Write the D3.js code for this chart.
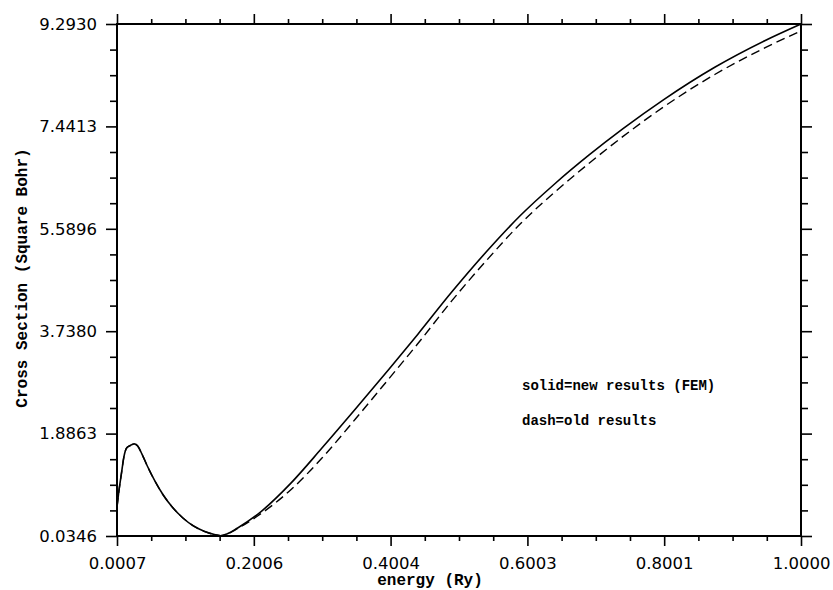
<!DOCTYPE html>
<html>
<head>
<meta charset="utf-8">
<script src="https://cdnjs.cloudflare.com/ajax/libs/d3/7.8.5/d3.min.js"></script>
<style>
    body { margin: 0; background: #fff; }
    .frame { fill: none; stroke: #000; stroke-width: 2px; }
    .axis line { stroke: #000; stroke-width: 1.6px; }
    .axis path { display: none; }
    .axis text { font-family: 'DejaVu Sans', sans-serif; font-size: 16.5px; fill: #000; }
    .curve { fill: none; stroke: #000; stroke-width: 1.6px; }
    .curve.dash { stroke-dasharray: 9,5; stroke-width: 1.4px; }
    .label { font-family: 'Liberation Mono', 'Courier New', monospace; font-weight: bold; fill: #000; }
</style>
</head>
<body>
<svg id="chart-svg"></svg>
<script>
// new results (FEM), solid line
const energySolid = [0.0007, 0.003, 0.007, 0.011, 0.015, 0.020, 0.026, 0.031, 0.037, 0.045,
    0.056, 0.068, 0.082, 0.097, 0.112, 0.128, 0.143, 0.152, 0.162, 0.177, 0.2066, 0.2555,
    0.2998, 0.349, 0.398, 0.44, 0.49, 0.54, 0.59, 0.64, 0.69, 0.74, 0.80, 0.874, 0.947, 1.0];
const crossSolid = [0.56, 0.80, 1.15, 1.48, 1.63, 1.67, 1.70, 1.66, 1.52, 1.30,
    1.03, 0.78, 0.55, 0.36, 0.22, 0.12, 0.06, 0.04, 0.075, 0.18, 0.43, 1.00,
    1.62, 2.33, 3.05, 3.68, 4.45, 5.17, 5.83, 6.40, 6.92, 7.40, 7.93, 8.51, 8.99, 9.293];

// old results, dashed line
const energyDash = [0.0007, 0.003, 0.007, 0.011, 0.015, 0.020, 0.026, 0.031, 0.037, 0.045,
    0.056, 0.068, 0.082, 0.097, 0.112, 0.128, 0.143, 0.152, 0.162, 0.177, 0.2066, 0.2555,
    0.2998, 0.349, 0.398, 0.44, 0.49, 0.54, 0.59, 0.64, 0.69, 0.74, 0.80, 0.874, 0.947, 1.0];
const crossDash = [0.56, 0.80, 1.15, 1.48, 1.63, 1.67, 1.70, 1.66, 1.52, 1.30,
    1.03, 0.78, 0.55, 0.36, 0.22, 0.12, 0.06, 0.04, 0.07, 0.17, 0.40, 0.88,
    1.44, 2.15, 2.88, 3.51, 4.29, 5.01, 5.68, 6.25, 6.77, 7.26, 7.80, 8.38, 8.86, 9.17];

const xTickValues = [0.0007, 0.2006, 0.4004, 0.6003, 0.8001, 1.0000];
const yTickValues = [0.0346, 1.8863, 3.7380, 5.5896, 7.4413, 9.2930];
const legendLines = ['solid=new results (FEM)', 'dash=old results'];
const xLabel = 'energy (Ry)';
const yLabel = 'Cross Section (Square Bohr)';

const width = 833, height = 590;
const plot = { left: 117, right: 801, top: 24, bottom: 536 };

window.addEventListener('load', function() {
    drawChart();
});

// 3 minor ticks between every pair of major ticks
function minorTicks(major)
{
    let out = [];
    for (let i = 0; i < major.length - 1; i++) {
        const step = (major[i+1] - major[i]) / 4;
        for (let k = 1; k < 4; k++) out.push(major[i] + k * step);
    }
    return out;
}

function drawChart()
{
    const svg = d3.select('#chart-svg')
        .attr('width', width)
        .attr('height', height);
    svg.append('rect').attr('width', width).attr('height', height).attr('fill', '#fff');

    const x = d3.scaleLinear()
        .domain([xTickValues[0], xTickValues[xTickValues.length-1]])
        .range([plot.left, plot.right]);
    const y = d3.scaleLinear()
        .domain([yTickValues[0], yTickValues[yTickValues.length-1]])
        .range([plot.bottom, plot.top]);

    const fmt = d3.format('.4f');
    const xMinor = minorTicks(xTickValues);
    const yMinor = minorTicks(yTickValues);

    // bottom
    svg.append('g').attr('class', 'axis')
        .attr('transform', `translate(0,${plot.bottom})`)
        .call(d3.axisBottom(x).tickValues(xTickValues).tickSize(10).tickPadding(11).tickFormat(fmt));
    svg.append('g').attr('class', 'axis')
        .attr('transform', `translate(0,${plot.bottom})`)
        .call(d3.axisBottom(x).tickValues(xMinor).tickSize(5).tickFormat(''));
    // top
    svg.append('g').attr('class', 'axis')
        .attr('transform', `translate(0,${plot.top})`)
        .call(d3.axisTop(x).tickValues(xTickValues).tickSize(10).tickFormat(''));
    svg.append('g').attr('class', 'axis')
        .attr('transform', `translate(0,${plot.top})`)
        .call(d3.axisTop(x).tickValues(xMinor).tickSize(5).tickFormat(''));
    // left
    svg.append('g').attr('class', 'axis')
        .attr('transform', `translate(${plot.left},0)`)
        .call(d3.axisLeft(y).tickValues(yTickValues).tickSize(11).tickPadding(9).tickFormat(fmt));
    svg.append('g').attr('class', 'axis')
        .attr('transform', `translate(${plot.left},0)`)
        .call(d3.axisLeft(y).tickValues(yMinor).tickSize(7).tickFormat(''));
    // right
    svg.append('g').attr('class', 'axis')
        .attr('transform', `translate(${plot.right},0)`)
        .call(d3.axisRight(y).tickValues(yTickValues).tickSize(11).tickFormat(''));
    svg.append('g').attr('class', 'axis')
        .attr('transform', `translate(${plot.right},0)`)
        .call(d3.axisRight(y).tickValues(yMinor).tickSize(7).tickFormat(''));

    svg.append('rect').attr('class', 'frame')
        .attr('x', plot.left).attr('y', plot.top)
        .attr('width', plot.right - plot.left)
        .attr('height', plot.bottom - plot.top);

    const line = d3.line()
        .x(d => x(d[0]))
        .y(d => y(d[1]))
        .curve(d3.curveMonotoneX);

    svg.append('path').attr('class', 'curve dash')
        .attr('d', line(d3.zip(energyDash, crossDash)));
    svg.append('path').attr('class', 'curve')
        .attr('d', line(d3.zip(energySolid, crossSolid)));

    // legend text
    svg.selectAll('text.legend')
        .data(legendLines)
        .join('text')
            .attr('class', 'label legend')
            .attr('x', 522)
            .attr('y', (d, i) => 390 + i * 35)
            .style('font-size', '14px')
            .text(d => d);

    svg.append('text').attr('class', 'label')
        .attr('x', 430).attr('y', 585)
        .attr('text-anchor', 'middle')
        .style('font-size', '16px')
        .text(xLabel);
    svg.append('text').attr('class', 'label')
        .attr('transform', `translate(27,${(plot.top + plot.bottom) / 2 - 2}) rotate(-90)`)
        .attr('text-anchor', 'middle')
        .style('font-size', '16px')
        .text(yLabel);
}
</script>
</body>
</html>
